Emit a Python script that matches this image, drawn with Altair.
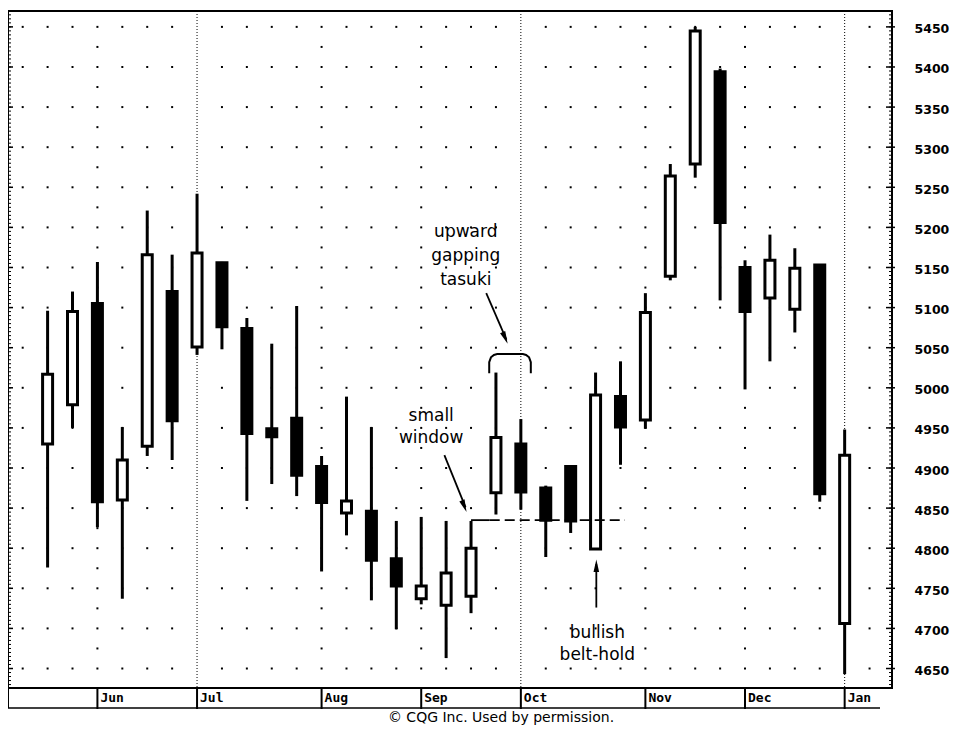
import altair as alt
import pandas as pd

# ---------------- values (weekly candles, left to right) ----------------
CANDLE = list(range(1, 34))
OPEN = [4930, 4979, 5105, 4860, 4927, 5120, 5051, 5156, 5074, 4949, 4962, 4902, 4844, 4846, 4787,
        4737, 4729, 4740, 4869, 4930, 4875, 4902, 4799, 4989, 4960, 5139, 5279, 5394, 5150, 5112,
        5098, 5153, 4706]
HIGH = [5096, 5120, 5157, 4951, 5221, 5166, 5242, 5157, 5087, 5055, 5102, 4915, 4989, 4951, 4834,
        4839, 4834, 4834, 5019, 4961, 4878, 4902, 5019, 5033, 5118, 5279, 5450, 5398, 5159, 5191,
        5174, 5153, 4948]
LOW = [4776, 4950, 4826, 4737, 4915, 4910, 5041, 5048, 4859, 4880, 4865, 4771, 4816, 4735, 4699,
       4730, 4663, 4719, 4842, 4848, 4789, 4819, 4799, 4904, 4949, 5134, 5262, 5109, 4998, 5033,
       5069, 4858, 4643]
CLOSE = [5017, 5095, 4858, 4910, 5166, 4959, 5168, 5076, 4943, 4939, 4891, 4857, 4859, 4785, 4753,
         4753, 4769, 4800, 4938, 4870, 4835, 4834, 4991, 4951, 5094, 5264, 5445, 5206, 5095, 5159,
         5149, 4868, 4916]

MONTHS = ["Jun", "Jul", "Aug", "Sep", "Oct", "Nov", "Dec", "Jan"]
MONTH_COLS = [3, 7, 12, 16, 20, 25, 29, 33]
QUARTER_COLS = [7, 20, 33]
GRID_COLS = list(range(0, 35))
PRICE_TICKS = list(range(4650, 5451, 50))
HALF_TICKS = list(range(4675, 5426, 50))

# annotations, anchored in data units (candle index, price)
NOTE_TEXT = ["upward\ngapping\ntasuki", "small\nwindow", "bullish\nbelt-hold"]
NOTE_X = [17.79, 16.40, 23.07]
NOTE_Y = [5188, 4959, 4688]
NOTE_LH = [24, 22.5, 22]
ARROW_X = [18.61, 16.93, 23.03]
ARROW_Y = [5118, 4916, 4726]
ARROW_X2 = [19.42, 17.78, 23.03]
ARROW_Y2 = [5060, 4851, 4780]
ARROW_TIPX = [19.47, 17.82, 23.03]
ARROW_TIPY = [5055, 4845, 4786]
ARROW_ANG = [156.6, 158.5, 0]
BRACKET_X = [18.73, 18.73, 18.80, 18.92, 19.05, 20.08, 20.21, 20.33, 20.40, 20.40]
BRACKET_Y = [5018, 5032, 5038, 5041, 5042, 5042, 5041, 5038, 5032, 5018]
WINDOW_LEVEL = 4835
WINDOW_FROM, WINDOW_SOLID_TO, WINDOW_TO = 18, 18.75, 24.18

# ---------------- layout ----------------
W, H = 884, 677
X_DOMAIN = [-0.389, 34.70]
Y_DOMAIN = [4625.7, 5469.8]
FONT = "DejaVu Sans"

xs = alt.Scale(domain=X_DOMAIN, nice=False, zero=False)
ys = alt.Scale(domain=Y_DOMAIN, nice=False, zero=False)
yaxis = alt.Axis(orient="right", values=PRICE_TICKS, format="d", ticks=False, domain=False, grid=False,
                 labelPadding=22, labelFont=FONT, labelFontWeight="bold", labelFontSize=12.5,
                 labelColor="black", labelAlign="left", labelBaseline="middle", labelOffset=2,
                 labelFlush=False, labelOverlap=False, title=None)


def X(f):
    return alt.X(f, type="quantitative", scale=xs, axis=None)


def Y(f):
    return alt.Y(f, type="quantitative", scale=ys, axis=yaxis)


candles = pd.DataFrame(dict(i=CANDLE, open=OPEN, high=HIGH, low=LOW, close=CLOSE))
candles["fill"] = ["white" if c >= o else "black" for o, c in zip(OPEN, CLOSE)]

dot_rows = [(c, v) for c in GRID_COLS if c not in QUARTER_COLS for v in PRICE_TICKS]
dot_rows += [(c, v) for c in MONTH_COLS if c not in QUARTER_COLS for v in HALF_TICKS]
dots = pd.DataFrame(dot_rows, columns=["i", "v"])

dots_layer = alt.Chart(dots).mark_square(size=4, color="black", opacity=1).encode(
    x=X("i"), y=Y("v"))

qlines = alt.Chart(pd.DataFrame({"i": QUARTER_COLS})).mark_rule(
    color="black", strokeWidth=1, strokeDash=[1, 2]).encode(
    x=X("i"), y=alt.value(0), y2=alt.value(H))

wicks = alt.Chart(candles).mark_rule(color="black", strokeWidth=3).encode(
    x=X("i"), y=Y("low"), y2=alt.Y2("high"))

bodies = alt.Chart(candles).mark_bar(size=10, stroke="black", strokeWidth=3).encode(
    x=X("i"), y=Y("open"), y2=alt.Y2("close"), fill=alt.Fill("fill:N", scale=None))

# ruler ticks on left and right edges
ruler = pd.DataFrame({"v": list(range(4630, 5470, 5))})
left_minor = alt.Chart(ruler).mark_rule(color="black", strokeWidth=1).encode(
    y=Y("v"), x=alt.value(0), x2=alt.value(3))
right_minor = alt.Chart(ruler).mark_rule(color="black", strokeWidth=1).encode(
    y=Y("v"), x=alt.value(W - 3), x2=alt.value(W))
major = pd.DataFrame({"v": PRICE_TICKS})
right_major = alt.Chart(major).mark_rule(color="black", strokeWidth=1.5).encode(
    y=Y("v"), x=alt.value(W - 6), x2=alt.value(W + 3))
left_major = alt.Chart(major).mark_rule(color="black", strokeWidth=1.5).encode(
    y=Y("v"), x=alt.value(0), x2=alt.value(5))

# month strip under the plot
mdf = pd.DataFrame({"i": MONTH_COLS, "m": MONTHS})
mticks = alt.Chart(mdf).mark_rule(color="black", strokeWidth=2).encode(
    x=X("i"), y=alt.value(H), y2=alt.value(H + 21))
mtext = alt.Chart(mdf).mark_text(align="left", baseline="middle", dx=3, font="DejaVu Sans Mono",
                                 fontWeight="bold", fontSize=13, color="black").encode(
    x=X("i"), y=alt.value(H + 10), text="m:N")
strip_left = alt.Chart(pd.DataFrame({"a": [0]})).mark_rule(color="black", strokeWidth=2).encode(
    x=alt.value(0), y=alt.value(H), y2=alt.value(H + 20))
strip_bottom = alt.Chart(pd.DataFrame({"a": [0]})).mark_rule(color="black", strokeWidth=1.3).encode(
    x=alt.value(0), x2=alt.value(872), y=alt.value(H + 20))

# annotations
notes = pd.DataFrame(dict(t=NOTE_TEXT, x=NOTE_X, y=NOTE_Y, lh=NOTE_LH))
note_layers = []
for k in range(len(NOTE_TEXT)):
    note_layers.append(
        alt.Chart(notes.iloc[[k]]).mark_text(align="center", baseline="alphabetic", lineBreak="\n",
                                             lineHeight=NOTE_LH[k], font=FONT, fontSize=17,
                                             color="black").encode(
            x=X("x"), y=Y("y"), text="t:N"))

arrows = pd.DataFrame(dict(x=ARROW_X, y=ARROW_Y, x2=ARROW_X2, y2=ARROW_Y2,
                           tx=ARROW_TIPX, ty=ARROW_TIPY, ang=ARROW_ANG))
arrow_lines = alt.Chart(arrows).mark_rule(color="black", strokeWidth=1.8).encode(
    x=X("x"), y=Y("y"), x2=alt.X2("x2"), y2=alt.Y2("y2"))
arrow_heads = alt.Chart(arrows).mark_point(shape="M0,0L0.4,1.8L-0.4,1.8Z", filled=True, size=196,
                                           color="black", opacity=1).encode(
    x=X("tx"), y=Y("ty"), angle=alt.Angle("ang:Q", scale=None))

bracket = alt.Chart(pd.DataFrame(dict(x=BRACKET_X, y=BRACKET_Y, o=list(range(len(BRACKET_X)))))).mark_line(
    color="black", strokeWidth=2).encode(x=X("x"), y=Y("y"), order="o:Q")

win_solid = alt.Chart(pd.DataFrame(dict(x=[WINDOW_FROM], x2=[WINDOW_SOLID_TO], y=[WINDOW_LEVEL]))).mark_rule(
    color="black", strokeWidth=1.8).encode(x=X("x"), x2=alt.X2("x2"), y=Y("y"))
win_dash = alt.Chart(pd.DataFrame(dict(x=[WINDOW_SOLID_TO], x2=[WINDOW_TO], y=[WINDOW_LEVEL]))).mark_rule(
    color="black", strokeWidth=1.8, strokeDash=[10, 5]).encode(x=X("x"), x2=alt.X2("x2"), y=Y("y"))

credit = alt.Chart(pd.DataFrame({"t": ["\u00a9 CQG Inc. Used by permission."]})).mark_text(
    align="center", baseline="middle", font=FONT, fontSize=14, color="black").encode(
    x=alt.value(493), y=alt.value(H + 30), text="t:N")

chart = alt.layer(
    dots_layer, qlines, left_minor, left_major, right_minor, right_major,
    wicks, bodies, win_solid, win_dash, bracket, arrow_lines, arrow_heads,
    *note_layers, mticks, mtext, strip_left, strip_bottom, credit,
).properties(
    width=W, height=H,
    autosize=alt.AutoSizeParams(type="none"),
    padding={"left": 0, "top": 3, "right": 59, "bottom": 42},
    background="white",
).configure_view(stroke="black", strokeWidth=2)

chart.save("out.html", embed_options={"renderer": "svg", "actions": False})
